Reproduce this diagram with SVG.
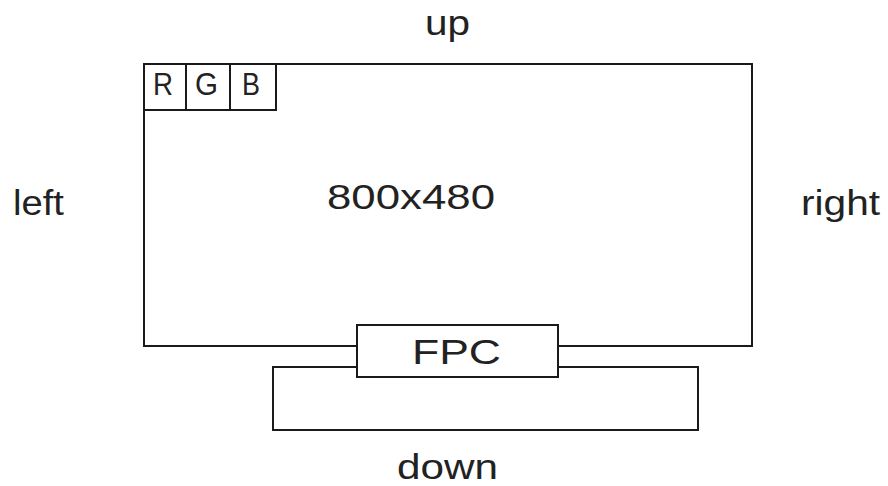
<svg xmlns="http://www.w3.org/2000/svg" width="888" height="486" viewBox="0 0 888 486">
<style>
.box{fill:#fff;stroke:#1a1a1a;stroke-width:2}
.t{font-family:"Liberation Sans",Arial,sans-serif;font-size:35px;fill:#222}
.s{font-family:"Liberation Sans",Arial,sans-serif;font-size:31px;fill:#222}
</style>
<rect width="888" height="486" fill="#fff"/>
<g id="labels">
<text class="t" x="425" y="35" textLength="45" lengthAdjust="spacingAndGlyphs">up</text>
<text class="t" x="13" y="215" textLength="51" lengthAdjust="spacingAndGlyphs">left</text>
<text class="t" x="801" y="215" textLength="79" lengthAdjust="spacingAndGlyphs">right</text>
<text class="t" x="397" y="479" textLength="101" lengthAdjust="spacingAndGlyphs">down</text>
</g>
<g id="screen">
<rect class="box" x="144" y="64" width="608" height="282"/>
<text class="t" x="327" y="209" textLength="168" lengthAdjust="spacingAndGlyphs">800x480</text>
</g>
<g id="rgb">
<rect class="box" x="144" y="64" width="42" height="46"/>
<rect class="box" x="186" y="64" width="44" height="46"/>
<rect class="box" x="230" y="64" width="46" height="46"/>
<text class="s" x="153" y="95" textLength="20" lengthAdjust="spacingAndGlyphs">R</text>
<text class="s" x="195" y="95" textLength="23" lengthAdjust="spacingAndGlyphs">G</text>
<text class="s" x="242" y="95" textLength="18" lengthAdjust="spacingAndGlyphs">B</text>
</g>
<g id="board">
<rect class="box" x="273" y="367" width="425" height="63"/>
</g>
<g id="fpc">
<rect class="box" x="357" y="325" width="201" height="52"/>
<text class="t" x="412" y="364" textLength="89" lengthAdjust="spacingAndGlyphs">FPC</text>
</g>
</svg>
